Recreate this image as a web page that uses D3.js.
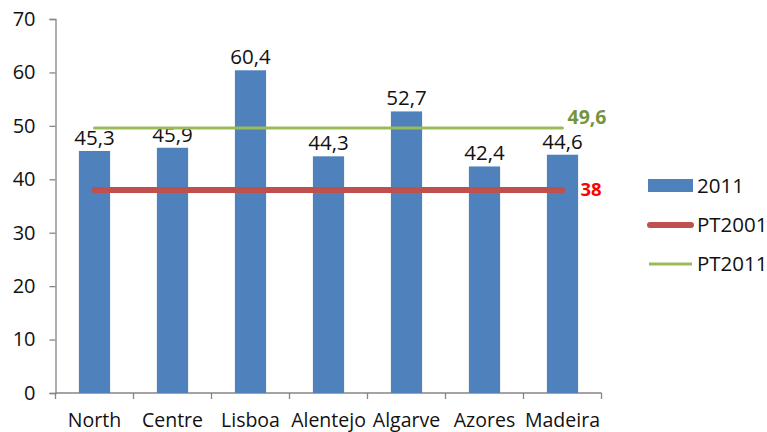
<!DOCTYPE html>
<html>
<head>
<meta charset="utf-8">
<script src="https://cdn.jsdelivr.net/npm/d3@7"></script>
<style>
  html, body { margin: 0; padding: 0; background: #fff; }
  svg text { font-family: "Open Sans", "Liberation Sans", sans-serif; fill: #111; }
</style>
</head>
<body>
<svg id="chart" width="767" height="432"></svg>
<script>
// Regions and their 2011 values
const regions = ["North", "Centre", "Lisboa", "Alentejo", "Algarve", "Azores", "Madeira"];
const values2011 = [45.3, 45.9, 60.4, 44.3, 52.7, 42.4, 44.6];
// National reference levels
const pt2001 = 38;
const pt2011 = 49.6;
const yTicks = [0, 10, 20, 30, 40, 50, 60, 70];
const legendLabels = ["2011", "PT2001", "PT2011"];

const BLUE = "#4F81BD", RED = "#C0504D", GREEN = "#9BBB59", AXIS = "#868686";

const svg = d3.select("#chart");
const margin = { left: 55.5, right: 165.5, top: 19, bottom: 39 };
const W = 767, H = 432;

const x = d3.scaleBand().domain(regions)
  .range([margin.left, W - margin.right])
  .paddingInner(0.6).paddingOuter(0.3);
const y = d3.scaleLinear().domain([0, 70]).range([H - margin.bottom, margin.top]);

const fmt = v => String(v).replace(".", ",");

// Y axis
const yAxis = svg.append("g")
  .attr("transform", `translate(${margin.left},0)`)
  .call(d3.axisLeft(y).tickValues(yTicks).tickSize(6).tickPadding(14));
yAxis.select(".domain").attr("stroke", AXIS).attr("stroke-width", 1.3);
yAxis.selectAll(".tick line").attr("stroke", AXIS).attr("stroke-width", 1.3);
yAxis.selectAll(".tick text").attr("font-size", 20).attr("fill", "#111")
  .attr("font-family", "'Open Sans', sans-serif");

// X axis: ticks on band boundaries
const xAxisG = svg.append("g").attr("transform", `translate(0,${y(0)})`);
xAxisG.append("line")
  .attr("x1", margin.left).attr("x2", W - margin.right)
  .attr("stroke", AXIS).attr("stroke-width", 1.3);
const step = x.step();
const boundaries = d3.range(regions.length + 1).map(i => margin.left + i * step);
xAxisG.selectAll("line.tk").data(boundaries).join("line")
  .attr("class", "tk")
  .attr("x1", d => d).attr("x2", d => d)
  .attr("y1", 0).attr("y2", 6)
  .attr("stroke", AXIS).attr("stroke-width", 1.3);
xAxisG.selectAll("text").data(regions).join("text")
  .attr("x", d => x(d) + x.bandwidth() / 2)
  .attr("y", 34)
  .attr("text-anchor", "middle")
  .attr("font-size", 19.5)
  .text(d => d);

// Bars
const data = regions.map((r, i) => ({ r, v: values2011[i] }));
svg.append("g").selectAll("rect").data(data).join("rect")
  .attr("x", d => x(d.r))
  .attr("y", d => y(d.v))
  .attr("width", x.bandwidth())
  .attr("height", d => y(0) - y(d.v))
  .attr("fill", BLUE);

// Bar value labels
svg.append("g").selectAll("text").data(data).join("text")
  .attr("x", d => x(d.r) + x.bandwidth() / 2)
  .attr("y", d => y(d.v) - 6)
  .attr("text-anchor", "middle")
  .attr("font-size", 20.5)
  .text(d => fmt(d.v));

// Reference lines spanning first to last category centre
const cx0 = x(regions[0]) + x.bandwidth() / 2;
const cx1 = x(regions[regions.length - 1]) + x.bandwidth() / 2;

svg.append("line")
  .attr("x1", cx0).attr("x2", cx1)
  .attr("y1", y(pt2001)).attr("y2", y(pt2001))
  .attr("stroke", RED).attr("stroke-width", 6).attr("stroke-linecap", "round");
svg.append("line")
  .attr("x1", cx0).attr("x2", cx1)
  .attr("y1", y(pt2011)).attr("y2", y(pt2011))
  .attr("stroke", GREEN).attr("stroke-width", 3).attr("stroke-linecap", "round");

svg.append("text")
  .attr("x", cx1 + 18).attr("y", y(pt2001) + 6.5)
  .attr("font-size", 18.5).attr("font-weight", "bold")
  .style("fill", "#FF0000")
  .text(fmt(pt2001));
svg.append("text")
  .attr("x", cx1 + 5).attr("y", y(pt2011) - 4)
  .attr("font-size", 19.5).attr("font-weight", "bold")
  .style("fill", "#77933C")
  .text(fmt(pt2011));

// Legend
const lg = svg.append("g").attr("transform", "translate(647,0)");
lg.append("rect").attr("x", 1).attr("y", 179).attr("width", 45).attr("height", 13).attr("fill", BLUE);
lg.append("line").attr("x1", 3).attr("x2", 44).attr("y1", 225).attr("y2", 225)
  .attr("stroke", RED).attr("stroke-width", 6).attr("stroke-linecap", "round");
lg.append("line").attr("x1", 2).attr("x2", 45).attr("y1", 264).attr("y2", 264)
  .attr("stroke", GREEN).attr("stroke-width", 3);
lg.selectAll("text").data(legendLabels).join("text")
  .attr("x", 50)
  .attr("y", (d, i) => [193, 232, 271][i])
  .attr("font-size", 20.5)
  .text(d => d);
</script>
</body>
</html>
